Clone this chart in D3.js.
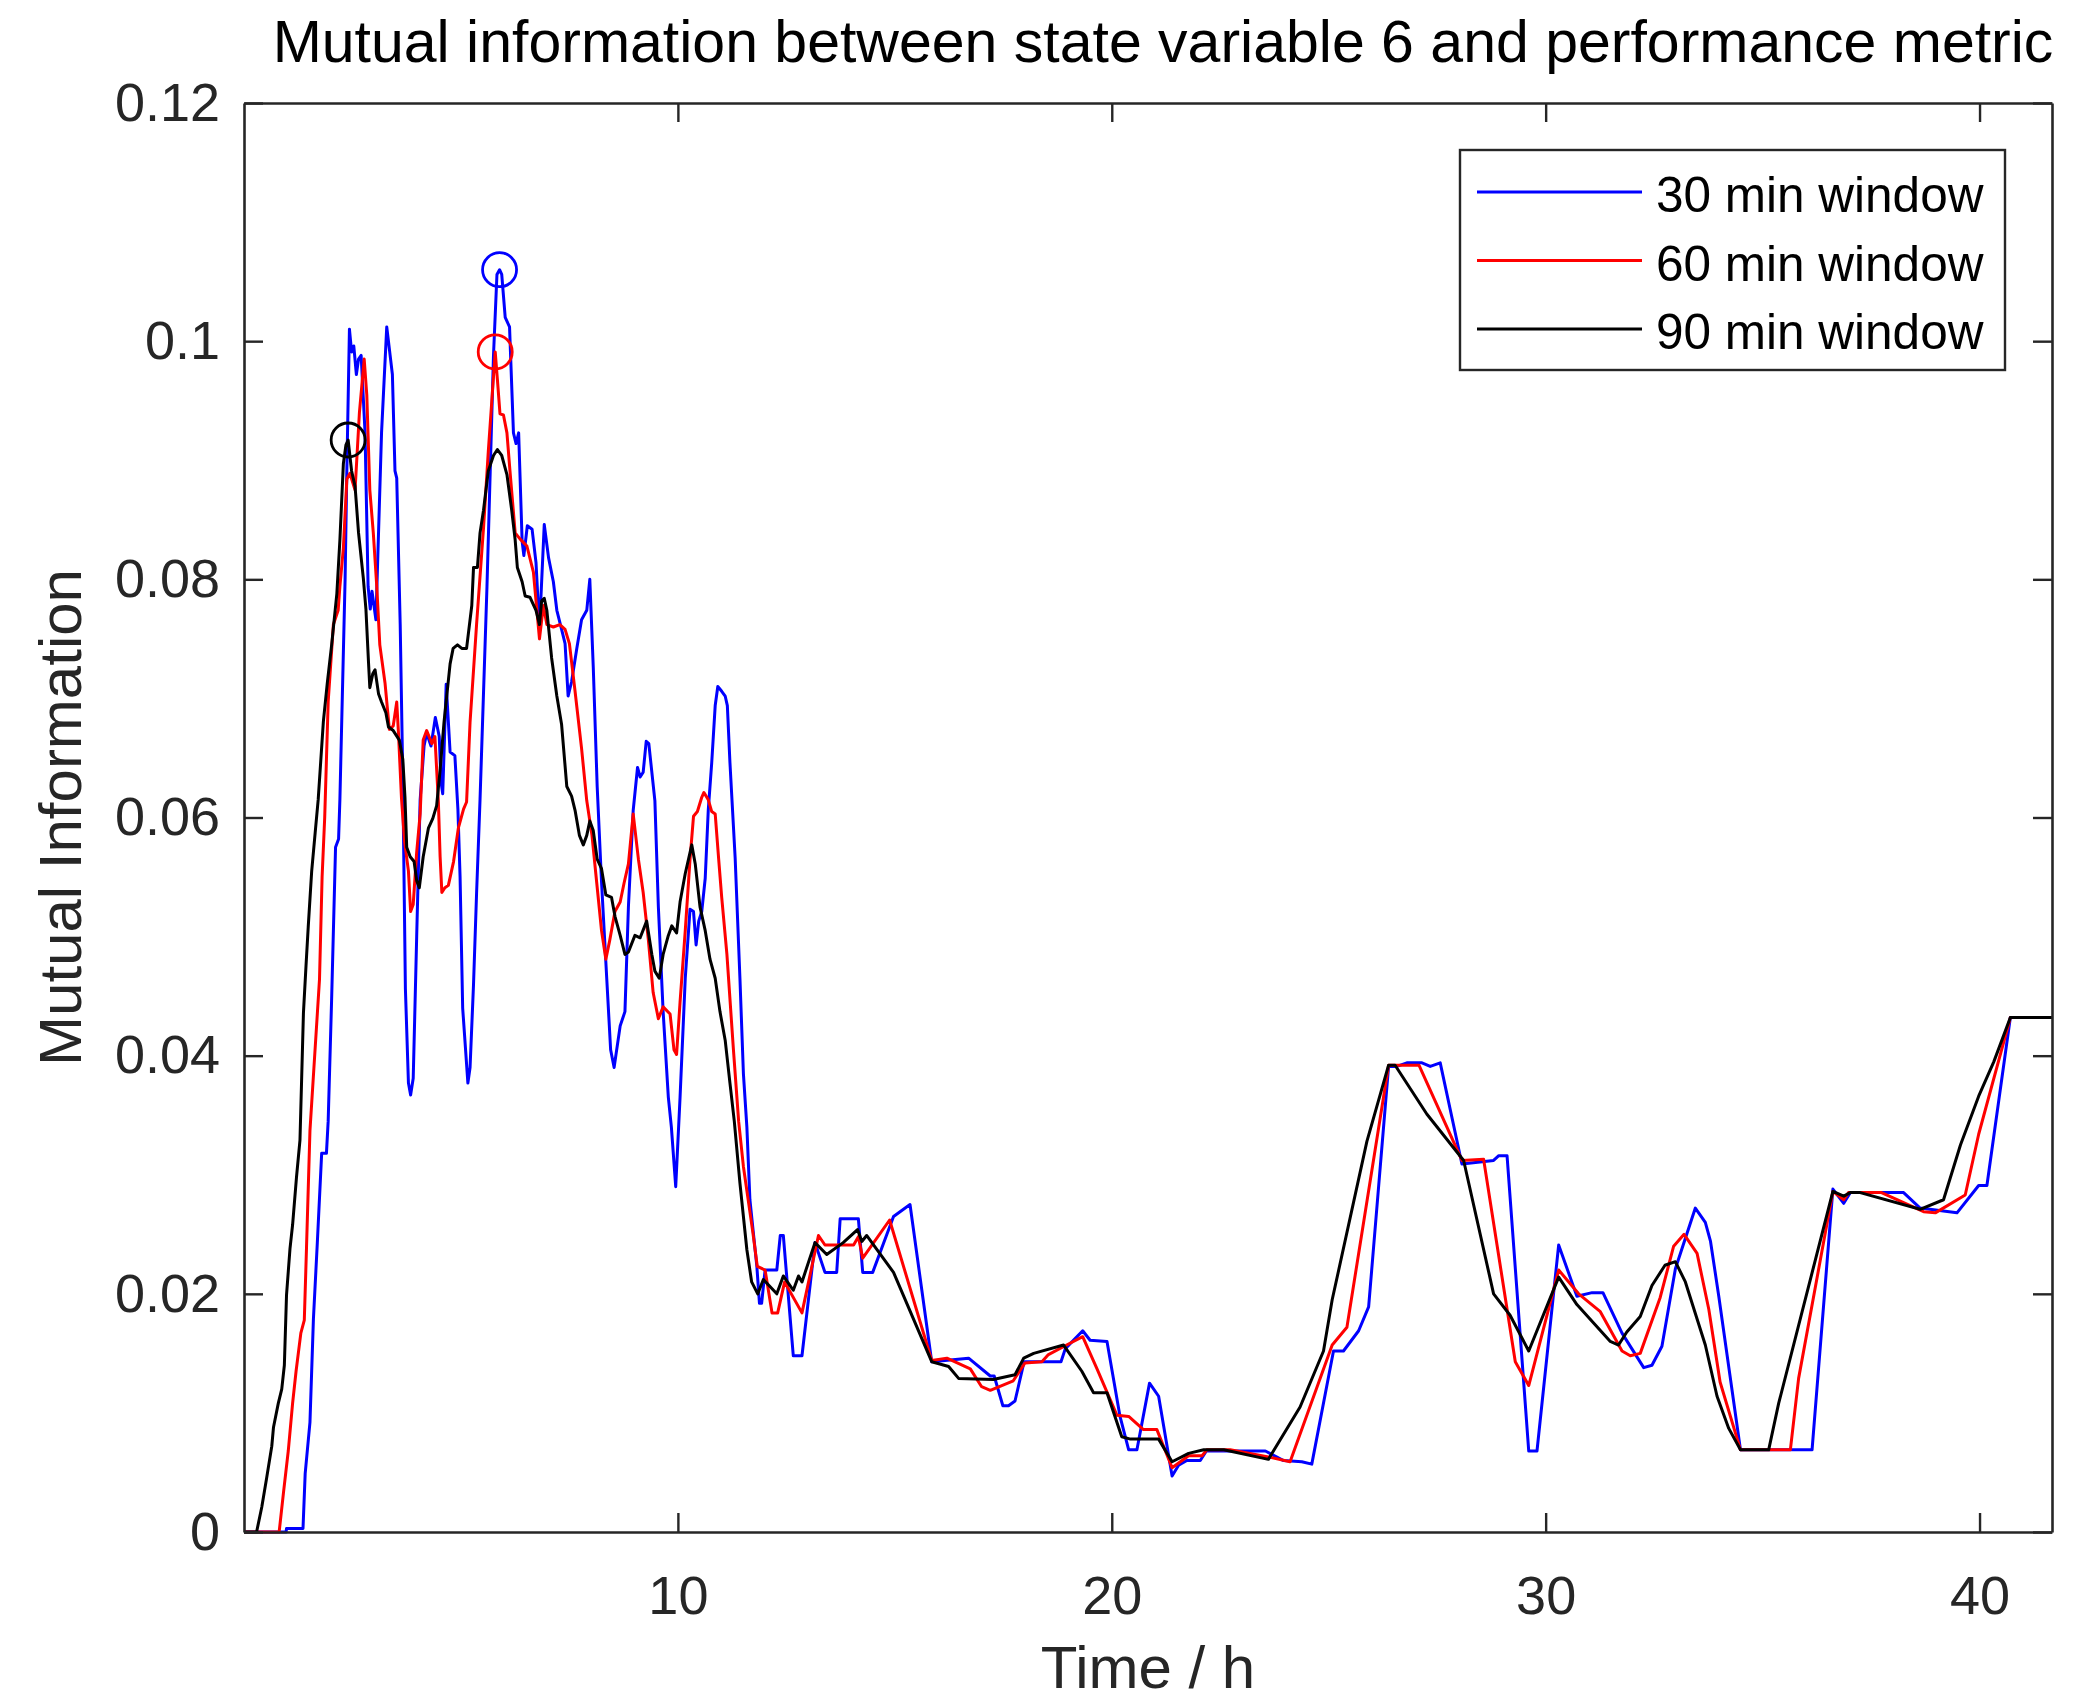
<!DOCTYPE html>
<html>
<head>
<meta charset="utf-8">
<script src="https://cdn.jsdelivr.net/npm/d3@7"></script>
<style>
  body { margin: 0; background: #fff; }
  text { font-family: 'Liberation Sans', Arial, Helvetica, sans-serif; }
</style>
</head>
<body>
<div id="chart"></div>
<script>
//data: [time in h, mutual information]
var win30 = [[0,0],[0.97,0],[0.98,0.0003],[1.36,0.0003],[1.41,0.0049],[1.52,0.0092],[1.60,0.0179],[1.69,0.0243],[1.79,0.0318],[1.90,0.0318],
  [1.94,0.0345],[2.02,0.0448],[2.11,0.0575],[2.18,0.0582],[2.21,0.0615],[2.33,0.080],[2.37,0.0891],[2.43,0.101],[2.48,0.0991],[2.53,0.0996],
  [2.59,0.0972],[2.64,0.0985],[2.70,0.0988],[2.79,0.0923],[2.86,0.0794],[2.91,0.0775],[2.95,0.079],[3.04,0.0766],[3.17,0.0923],[3.29,0.1012],
  [3.42,0.0972],[3.48,0.0891],[3.52,0.0885],[3.60,0.0762],[3.66,0.0633],[3.72,0.0456],[3.79,0.0377],[3.84,0.0367],[3.90,0.0381],[3.98,0.050],
  [4.06,0.0615],[4.15,0.066],[4.21,0.0671],[4.31,0.066],[4.41,0.0684],[4.50,0.0668],[4.54,0.063],[4.58,0.062],[4.66,0.0712],[4.75,0.0655],
  [4.86,0.0652],[4.93,0.0607],[4.98,0.055],[5.04,0.044],[5.16,0.0377],[5.21,0.039],[5.29,0.046],[5.36,0.0536],[5.44,0.0615],[5.60,0.0794],
  [5.75,0.0988],[5.83,0.1056],[5.89,0.106],[5.94,0.1056],[6.02,0.102],[6.12,0.1012],[6.21,0.0923],[6.27,0.0914],[6.33,0.0923],[6.41,0.0832],
  [6.45,0.082],[6.53,0.0845],[6.64,0.0842],[6.73,0.0814],[6.81,0.0758],[6.92,0.0846],[7.02,0.0818],[7.13,0.0798],[7.21,0.0774],[7.32,0.0758],
  [7.40,0.0746],[7.47,0.0702],[7.55,0.0714],[7.67,0.0742],[7.78,0.0766],[7.90,0.0774],[7.97,0.080],[8.05,0.0726],[8.14,0.0626],[8.24,0.0546],
  [8.36,0.0465],[8.45,0.0405],[8.53,0.039],[8.67,0.0425],[8.78,0.0437],[8.86,0.0525],[8.97,0.0606],[9.07,0.0642],[9.13,0.0634],[9.20,0.0638],
  [9.27,0.0664],[9.33,0.0662],[9.47,0.0614],[9.55,0.0525],[9.66,0.0437],[9.78,0.0365],[9.85,0.034],[9.95,0.029],[10.05,0.0365],[10.17,0.0465],
  [10.28,0.0523],[10.36,0.0521],[10.42,0.0493],[10.48,0.0513],[10.55,0.0521],[10.63,0.0549],[10.70,0.0606],[10.78,0.0646],[10.86,0.0694],[10.92,0.071],
  [11.01,0.0706],[11.09,0.0702],[11.14,0.0694],[11.20,0.0646],[11.32,0.0566],[11.43,0.0465],[11.51,0.0385],[11.59,0.034],[11.66,0.0279],[11.74,0.0251],
  [11.82,0.0223],[11.88,0.0192],[11.93,0.0192],[12.01,0.022],[12.28,0.022],[12.36,0.0249],[12.43,0.0249],[12.66,0.0148],[12.86,0.0148],[13.16,0.0243],
  [13.39,0.0218],[13.66,0.0218],[13.74,0.0263],[14.16,0.0263],[14.26,0.0218],[14.49,0.0218],[14.97,0.0265],[15.35,0.0275],[15.85,0.0143],[16.70,0.0146],
  [17.20,0.0131],[17.29,0.0131],[17.49,0.0106],[17.62,0.0106],[17.77,0.011],[17.98,0.0143],[18.83,0.0143],[18.93,0.0154],[19.33,0.0169],[19.50,0.0161],
  [19.89,0.016],[20.19,0.0097],[20.39,0.0069],[20.58,0.0069],[20.87,0.0125],[21.08,0.0114],[21.39,0.0047],[21.54,0.0056],[21.73,0.006],[22.04,0.006],
  [22.18,0.0068],[23.54,0.0068],[23.96,0.006],[24.38,0.0059],[24.61,0.0057],[25.11,0.0152],[25.34,0.0152],[25.69,0.0169],[25.92,0.0189],[26.38,0.0391],
  [26.57,0.0391],[26.80,0.0394],[27.15,0.0394],[27.34,0.0391],[27.57,0.0394],[28.07,0.0309],[28.80,0.0312],[28.92,0.0316],[29.11,0.0316],[29.61,0.0068],
  [29.80,0.0068],[30.30,0.0241],[30.72,0.0198],[31.07,0.0201],[31.32,0.0201],[31.76,0.0167],[32.26,0.0138],[32.45,0.014],[32.68,0.0156],[32.99,0.0221],
  [33.45,0.0272],[33.68,0.026],[33.80,0.0244],[33.99,0.0198],[34.49,0.0069],[36.14,0.0069],[36.62,0.0288],[36.87,0.0276],[37.02,0.0285],[38.25,0.0285],
  [38.63,0.0272],[39.48,0.0268],[39.98,0.0291],[40.17,0.0291],[40.71,0.0432],[41.67,0.0432]];

var win60 = [[0,0],[0.81,0],[0.91,0.0033],[1.02,0.0068],[1.12,0.0108],[1.20,0.0135],[1.31,0.0167],[1.39,0.0178],[1.44,0.0238],[1.52,0.0337],
  [1.61,0.0389],[1.74,0.0464],[1.80,0.055],[1.86,0.060],[1.94,0.0697],[2.06,0.0762],[2.17,0.0774],[2.21,0.0794],[2.29,0.0826],[2.37,0.0884],
  [2.44,0.0889],[2.56,0.0875],[2.66,0.094],[2.77,0.0985],[2.83,0.0955],[2.90,0.0875],[2.98,0.0839],[3.06,0.0794],[3.13,0.0745],[3.25,0.0713],
  [3.35,0.0674],[3.44,0.0677],[3.52,0.0697],[3.56,0.0671],[3.63,0.0616],[3.70,0.058],[3.79,0.0555],[3.84,0.0521],[3.90,0.0527],[3.98,0.0571],
  [4.06,0.0603],[4.13,0.0665],[4.21,0.0673],[4.33,0.0662],[4.40,0.0668],[4.48,0.0613],[4.52,0.0567],[4.56,0.0537],[4.63,0.0541],[4.71,0.0543],
  [4.83,0.0563],[4.94,0.0591],[5.06,0.0607],[5.13,0.0613],[5.21,0.068],[5.36,0.0762],[5.52,0.0843],[5.63,0.0907],[5.71,0.0949],[5.79,0.0991],
  [5.84,0.0968],[5.90,0.0939],[5.98,0.0938],[6.06,0.0923],[6.13,0.0891],[6.25,0.0839],[6.36,0.0834],[6.52,0.0828],[6.67,0.0806],[6.81,0.075],
  [6.90,0.0778],[6.98,0.0762],[7.13,0.076],[7.28,0.0762],[7.40,0.0758],[7.50,0.0746],[7.63,0.0706],[7.78,0.0658],[7.90,0.0614],[8.02,0.0585],
  [8.13,0.0545],[8.24,0.0505],[8.34,0.0481],[8.43,0.0497],[8.55,0.0521],[8.67,0.0529],[8.76,0.0545],[8.86,0.0561],[8.97,0.0603],[9.09,0.0565],
  [9.20,0.0537],[9.32,0.0497],[9.43,0.0453],[9.55,0.0431],[9.66,0.0441],[9.82,0.0435],[9.91,0.0405],[9.97,0.0401],[10.05,0.0445],[10.17,0.0505],
  [10.28,0.0565],[10.36,0.0601],[10.45,0.0605],[10.55,0.0617],[10.60,0.0621],[10.70,0.0615],[10.78,0.0605],[10.86,0.0603],[10.94,0.0565],[11.01,0.0533],
  [11.13,0.0485],[11.28,0.0405],[11.40,0.0345],[11.51,0.0307],[11.73,0.0251],[11.83,0.0223],[12.01,0.022],[12.17,0.0184],[12.30,0.0184],[12.46,0.021],
  [12.86,0.0184],[13.24,0.0249],[13.39,0.0241],[14.05,0.0241],[14.16,0.0248],[14.26,0.023],[14.88,0.0262],[15.85,0.0144],[16.20,0.0146],[16.74,0.0137],
  [17.00,0.0122],[17.20,0.0119],[17.73,0.0127],[18.00,0.0142],[18.39,0.0143],[18.54,0.0149],[18.96,0.0157],[19.33,0.0164],[19.66,0.0137],[20.12,0.0098],
  [20.39,0.0097],[20.73,0.0086],[21.04,0.0086],[21.39,0.0054],[21.77,0.0064],[22.08,0.0064],[22.19,0.0069],[22.73,0.0069],[23.61,0.0063],[24.11,0.0059],
  [25.08,0.0157],[25.42,0.0172],[26.38,0.0392],[26.73,0.0392],[27.08,0.0392],[28.07,0.0312],[28.57,0.0313],[29.30,0.0143],[29.61,0.0123],[30.30,0.022],
  [30.76,0.020],[31.26,0.0185],[31.76,0.0152],[31.95,0.0148],[32.18,0.015],[32.64,0.0197],[32.95,0.024],[33.19,0.025],[33.49,0.0234],[33.76,0.0187],
  [34.02,0.0126],[34.49,0.0069],[35.64,0.0069],[35.83,0.0129],[36.62,0.0286],[36.87,0.0279],[36.98,0.0285],[37.74,0.0285],[38.71,0.0269],[38.98,0.0268],
  [39.67,0.0283],[39.98,0.0334],[40.71,0.0432],[41.67,0.0432]];

var win90 = [[0,0],[0.29,0],[0.41,0.0021],[0.52,0.0045],[0.64,0.0072],[0.68,0.0088],[0.79,0.0108],[0.87,0.012],[0.93,0.014],[0.98,0.0199],
  [1.06,0.0238],[1.12,0.0258],[1.21,0.0298],[1.29,0.0329],[1.37,0.0436],[1.43,0.0476],[1.48,0.0508],[1.56,0.0555],[1.64,0.0587],[1.71,0.0615],
  [1.83,0.0681],[1.92,0.0713],[2.02,0.0745],[2.14,0.0788],[2.21,0.0833],[2.29,0.0897],[2.35,0.0913],[2.40,0.0917],[2.48,0.0891],[2.56,0.0878],
  [2.64,0.0839],[2.75,0.0801],[2.81,0.0775],[2.87,0.073],[2.90,0.0709],[2.97,0.0721],[3.02,0.0724],[3.10,0.0704],[3.17,0.0697],[3.27,0.0688],
  [3.33,0.0676],[3.44,0.0673],[3.58,0.0665],[3.66,0.0649],[3.71,0.0617],[3.75,0.0575],[3.83,0.0567],[3.92,0.0563],[3.98,0.0547],[4.04,0.0541],
  [4.13,0.0567],[4.25,0.0591],[4.35,0.0599],[4.44,0.061],[4.52,0.064],[4.61,0.068],[4.75,0.0729],[4.82,0.0742],[4.92,0.0745],[5.02,0.0742],
  [5.13,0.0742],[5.25,0.0778],[5.29,0.081],[5.38,0.081],[5.44,0.0839],[5.52,0.0858],[5.63,0.0891],[5.75,0.0904],[5.84,0.0909],[5.94,0.0904],
  [6.06,0.0888],[6.17,0.0858],[6.25,0.0833],[6.30,0.081],[6.41,0.0798],[6.48,0.0786],[6.59,0.0785],[6.73,0.0774],[6.81,0.0762],[6.86,0.0782],
  [6.92,0.0784],[6.98,0.0774],[7.09,0.0734],[7.21,0.0702],[7.32,0.0678],[7.44,0.0626],[7.55,0.0618],[7.63,0.0606],[7.73,0.0585],[7.82,0.0577],
  [7.90,0.0585],[7.97,0.0597],[8.05,0.0589],[8.14,0.0565],[8.24,0.0557],[8.34,0.0535],[8.47,0.0533],[8.55,0.0517],[8.67,0.0501],[8.78,0.0485],
  [8.86,0.0487],[9.01,0.0501],[9.13,0.0499],[9.28,0.0513],[9.40,0.0485],[9.47,0.0471],[9.57,0.0465],[9.66,0.0485],[9.78,0.0501],[9.86,0.0509],
  [9.97,0.0503],[10.05,0.0529],[10.17,0.0553],[10.32,0.0577],[10.40,0.0561],[10.51,0.0525],[10.63,0.0505],[10.74,0.0481],[10.86,0.0465],[10.97,0.0437],
  [11.09,0.0413],[11.20,0.0377],[11.30,0.0345],[11.43,0.0293],[11.59,0.0237],[11.70,0.021],[11.84,0.020],[11.97,0.0212],[12.28,0.020],[12.43,0.0215],
  [12.66,0.0203],[12.78,0.0215],[12.86,0.021],[13.16,0.0243],[13.43,0.0233],[13.81,0.0243],[14.14,0.0254],[14.24,0.0244],[14.35,0.0249],[14.97,0.0218],
  [15.85,0.0143],[16.24,0.0139],[16.47,0.0129],[17.27,0.0128],[17.77,0.0132],[17.97,0.0146],[18.20,0.015],[18.89,0.0157],[19.31,0.0135],[19.58,0.0117],
  [19.89,0.0117],[20.23,0.008],[20.43,0.0078],[21.08,0.0078],[21.39,0.0059],[21.77,0.0066],[22.12,0.0069],[22.58,0.0069],[23.61,0.0061],[24.34,0.0105],
  [24.88,0.0152],[25.08,0.0195],[25.88,0.0328],[26.38,0.0392],[26.53,0.0392],[27.26,0.0351],[28.11,0.0312],[28.80,0.020],[29.18,0.0182],[29.61,0.0152],
  [30.30,0.0214],[30.72,0.0191],[31.49,0.016],[31.68,0.0157],[31.87,0.0168],[32.18,0.0181],[32.45,0.0207],[32.75,0.0224],[32.99,0.0227],[33.22,0.021],
  [33.68,0.0157],[33.95,0.0114],[34.22,0.0087],[34.49,0.0069],[35.14,0.0069],[35.37,0.0108],[36.62,0.0286],[36.87,0.0282],[37.02,0.0285],[37.25,0.0285],
  [38.63,0.0271],[39.17,0.0279],[39.56,0.0325],[39.98,0.0366],[40.33,0.0395],[40.71,0.0432],[41.67,0.0432]];

var seriesNames = ['30 min window', '60 min window', '90 min window'];
var seriesColors = ['#0000ff', '#ff0000', '#000000'];
var xTicks = [10, 20, 30, 40];
var yTicks = [0, 0.02, 0.04, 0.06, 0.08, 0.1, 0.12];
var xDomain = [0, 41.67];
var yDomain = [0, 0.12];

(function miChart(){

  var W = 2093, H = 1703;
  var margin = {top: 103, right: 41, bottom: 171, left: 244},
      width = W - margin.left - margin.right,
      height = H - margin.top - margin.bottom,
      x = d3.scaleLinear().domain(xDomain).range([0, width]),
      y = d3.scaleLinear().domain(yDomain).range([height, 0]);

  var axisColor = '#262626';

  var svg = d3.select('#chart')
    .append('svg')
    .attr('width', W)
    .attr('height', H)
    .style('background', '#fff');

  //title
  svg.append('text')
    .attr('x', 1163)
    .attr('y', 62)
    .attr('text-anchor', 'middle')
    .attr('font-size', 59)
    .attr('fill', '#000')
    .text('Mutual information between state variable 6 and performance metric');

  var g = svg.append('g')
    .attr('transform', 'translate(' + margin.left + ',' + margin.top + ')');

  var series = [win30, win60, win90];

  var line = d3.line()
    .x(function(d){ return x(d[0]); })
    .y(function(d){ return y(d[1]); });

  series.forEach(function(s, i){
    g.append('path')
      .datum(s)
      .attr('fill', 'none')
      .attr('stroke', seriesColors[i])
      .attr('stroke-width', 3)
      .attr('stroke-linejoin', 'round')
      .attr('d', line);
  });

  //circle on the maximum of each series
  series.forEach(function(s, i){
    var m = s[d3.maxIndex(s, function(d){ return d[1]; })];
    g.append('circle')
      .attr('cx', x(m[0]))
      .attr('cy', y(m[1]))
      .attr('r', 17)
      .attr('fill', 'none')
      .attr('stroke', seriesColors[i])
      .attr('stroke-width', 2.8);
  });

  //axes, ticks inward on all four sides
  var tl = 19;
  var fmtY = function(d){ return d3.format('~g')(d); };

  var xAxis = d3.axisBottom(x).tickValues(xTicks).tickSizeInner(-tl).tickSizeOuter(0).tickPadding(44);
  var yAxis = d3.axisLeft(y).tickValues(yTicks).tickFormat(fmtY).tickSizeInner(-tl).tickSizeOuter(0).tickPadding(24);
  var xTop = d3.axisTop(x).tickValues(xTicks).tickFormat('').tickSizeInner(-tl).tickSizeOuter(0);
  var yRight = d3.axisRight(y).tickValues(yTicks).tickFormat('').tickSizeInner(-tl).tickSizeOuter(0);

  var gx = g.append('g').attr('transform', 'translate(0,' + height + ')').call(xAxis);
  var gy = g.append('g').call(yAxis);
  var gt = g.append('g').call(xTop);
  var gr = g.append('g').attr('transform', 'translate(' + width + ',0)').call(yRight);

  [gx, gy, gt, gr].forEach(function(a){
    a.selectAll('path.domain').attr('stroke', axisColor).attr('stroke-width', 2.6);
    a.selectAll('line').attr('stroke', axisColor).attr('stroke-width', 2.4);
    a.selectAll('text')
      .attr('fill', axisColor)
      .attr('font-size', 54)
      .style('font-family', "'Liberation Sans', Arial, sans-serif");
  });

  //axis labels
  svg.append('text')
    .attr('x', margin.left + width / 2)
    .attr('y', 1688)
    .attr('text-anchor', 'middle')
    .attr('font-size', 60)
    .attr('fill', axisColor)
    .text('Time / h');

  svg.append('text')
    .attr('transform', 'translate(81,' + (margin.top + height / 2) + ') rotate(-90)')
    .attr('text-anchor', 'middle')
    .attr('font-size', 60)
    .attr('fill', axisColor)
    .text('Mutual Information');

  //legend
  var lg = svg.append('g').attr('transform', 'translate(1460,150)');
  lg.append('rect')
    .attr('width', 545)
    .attr('height', 220)
    .attr('fill', '#fff')
    .attr('stroke', axisColor)
    .attr('stroke-width', 2.4);

  seriesNames.forEach(function(name, i){
    var ly = 42 + i * 68.5;
    lg.append('line')
      .attr('x1', 17).attr('x2', 182)
      .attr('y1', ly).attr('y2', ly)
      .attr('stroke', seriesColors[i])
      .attr('stroke-width', 3);
    lg.append('text')
      .attr('x', 196)
      .attr('y', ly + 20)
      .attr('font-size', 49.5)
      .attr('fill', '#000')
      .text(name);
  });

})();
</script>
</body>
</html>
